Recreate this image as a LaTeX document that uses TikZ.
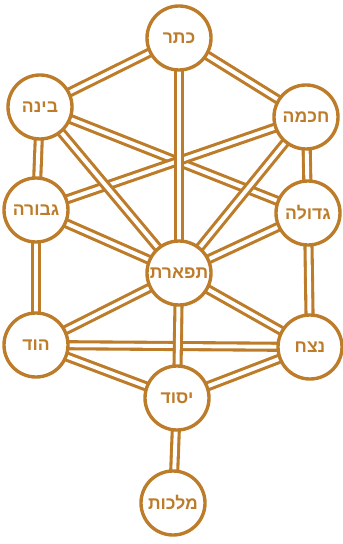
\documentclass[tikz,border=0pt]{standalone}
\usepackage{fontspec}
\newfontfamily\hebfont[Script=Hebrew]{Liberation Sans}
\TeXXeTstate=1
\usetikzlibrary{backgrounds}
\definecolor{treeorange}{RGB}{188,124,42}
\tikzset{
  sefirah/.style={draw=treeorange, circle, line width=2.4pt, fill=white, minimum size=16mm, inner sep=0pt, text=treeorange, font=\hebfont\bfseries\fontsize{12.5}{15}\selectfont},
  channel/.style={draw=treeorange, line width=2.2pt, double=white, double distance=2.8pt, shorten <=-3pt, shorten >=-3pt}
}
\newcommand{\heb}[1]{\beginR #1\endR}

\begin{document}
\begin{tikzpicture}[x=0.25mm,y=-0.25mm]
  \useasboundingbox (0,0) rectangle (342,544);
  \node[sefirah] (keter) at (179,38) {\heb{כתר}};
  \node[sefirah] (binah) at (40,107) {\heb{בינה}};
  \node[sefirah] (chokhmah) at (306,117) {\heb{חכמה}};
  \node[sefirah] (gevurah) at (36,210) {\heb{גבורה}};
  \node[sefirah] (gedulah) at (308,213) {\heb{גדולה}};
  \node[sefirah] (tiferet) at (179,273) {\heb{תפארת}};
  \node[sefirah] (hod) at (36,345) {\heb{הוד}};
  \node[sefirah] (netzach) at (310,347) {\heb{נצח}};
  \node[sefirah] (yesod) at (177,398) {\heb{יסוד}};
  \node[sefirah] (malkhut) at (173,503) {\heb{מלכות}};

  \begin{scope}[on background layer]
    \draw[channel] (keter) -- (binah);
    \draw[channel] (keter) -- (chokhmah);
    \draw[channel] (binah) -- (gedulah);
    \draw[channel] (chokhmah) -- (gevurah);
    \draw[channel] (binah) -- (tiferet);
    \draw[channel] (chokhmah) -- (tiferet);
    \draw[channel] (gevurah) -- (tiferet);
    \draw[channel] (gedulah) -- (tiferet);
    \draw[channel] (tiferet) -- (hod);
    \draw[channel] (tiferet) -- (netzach);
    \draw[channel] (hod) -- (yesod);
    \draw[channel] (netzach) -- (yesod);
    \draw[channel] (hod) -- (netzach);
    \draw[channel] (binah) -- (gevurah);
    \draw[channel] (gevurah) -- (hod);
    \draw[channel] (chokhmah) -- (gedulah);
    \draw[channel] (gedulah) -- (netzach);
    \draw[channel] (keter) -- (tiferet);
    \draw[channel] (tiferet) -- (yesod);
    \draw[channel] (yesod) -- (malkhut);
  \end{scope}
\end{tikzpicture}
\end{document}
